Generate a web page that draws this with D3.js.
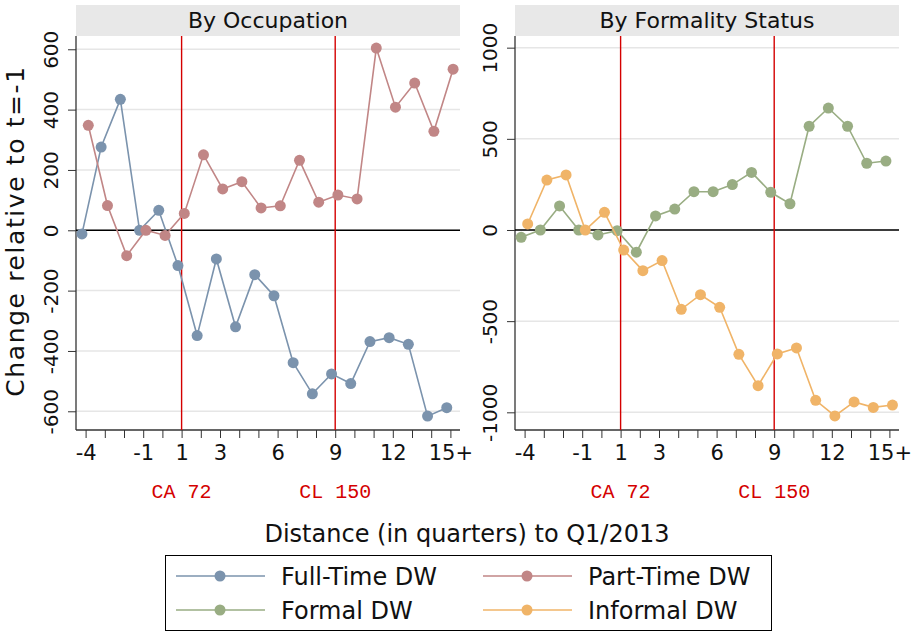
<!DOCTYPE html>
<html>
<head>
<meta charset="utf-8">
<script src="https://cdn.jsdelivr.net/npm/d3@7"></script>
<style>
  body { margin: 0; background: #fff; }
</style>
</head>
<body>
<div id="chart"></div>
<script>
// quarters relative to Q1/2013 (t=-1 is the reference)
var quarters = [-4, -3, -2, -1, 0, 1, 2, 3, 4, 5, 6, 7, 8, 9, 10, 11, 12, 13, 14, 15];
var xTickLabels = [-4, -1, 1, 3, 6, 9, 12, 15];

var fullTime = [-12, 276, 434, 0, 66, -117, -349, -95, -320, -147, -217, -439, -542, -476, -508, -369, -356, -378, -616, -588];
var partTime = [348, 82, -84, 0, -17, 56, 250, 137, 161, 74, 81, 232, 93, 117, 104, 604, 408, 488, 328, 534];
var formal = [-40, 0, 132, 0, -27, -4, -122, 77, 115, 210, 210, 249, 316, 207, 144, 569, 669, 569, 366, 378];
var informal = [33, 274, 302, 0, 97, -110, -223, -168, -435, -355, -424, -682, -854, -680, -647, -934, -1020, -943, -973, -960];

var events = [{t: 1, label: 'CA 72'}, {t: 9, label: 'CL 150'}];

var colFull = '#7b93ad', colPart = '#c18686', colFormal = '#99ad83', colInformal = '#f0b468';

var W = 912, H = 632;
var plotTop = 36, plotBottom = 430;
var sans = '"DejaVu Sans", Verdana, sans-serif';

var svg = d3.select('#chart').append('svg')
  .attr('width', W).attr('height', H)
  .attr('font-family', sans);

var panels = [
  {title: 'By Occupation', x0: 76, x1: 460, dom: [-662, 644], ticks: [-600, -400, -200, 0, 200, 400, 600],
   series: [{vals: fullTime, color: colFull, dx: -0.19}, {vals: partTime, color: colPart, dx: 0.14}]},
  {title: 'By Formality Status', x0: 515, x1: 899, dom: [-1097, 1064], ticks: [-1000, -500, 0, 500, 1000],
   series: [{vals: formal, color: colFormal, dx: -0.18}, {vals: informal, color: colInformal, dx: 0.16}]}
];

panels.forEach(function(p) {
  var x = d3.scaleLinear().domain([-4.5, 15.5]).range([p.x0, p.x1]);
  var y = d3.scaleLinear().domain(p.dom).range([plotBottom, plotTop]);
  var g = svg.append('g');

  // header strip
  g.append('rect').attr('x', p.x0).attr('y', 5).attr('width', p.x1 - p.x0).attr('height', plotTop - 5)
    .attr('fill', '#e8e8e8');
  g.append('text').attr('x', (p.x0 + p.x1) / 2).attr('y', 28).attr('text-anchor', 'middle')
    .attr('font-size', '22px').attr('fill', '#111').text(p.title);

  // gridlines
  g.selectAll('.grid').data(p.ticks).enter().append('line')
    .attr('x1', p.x0).attr('x2', p.x1)
    .attr('y1', function(d) { return y(d); }).attr('y2', function(d) { return y(d); })
    .attr('stroke', '#e6e6e6').attr('stroke-width', 1.5);

  // y axis (plain hyphen for negatives)
  var ya = g.append('g').attr('transform', 'translate(' + p.x0 + ',0)')
    .call(d3.axisLeft(y).tickValues(p.ticks).tickSize(8).tickFormat(function(d) { return String(d); }));
  ya.select('.domain').attr('stroke', '#333').attr('stroke-width', 1.3)
    .attr('d', 'M0,' + plotTop + 'V' + plotBottom);
  ya.selectAll('.tick line').attr('stroke', '#333');
  ya.selectAll('.tick text').attr('font-size', '20px').attr('fill', '#111')
    .attr('font-family', sans)
    .attr('text-anchor', 'middle').attr('x', 0).attr('y', 0).attr('dy', '0.35em')
    .attr('transform', 'translate(-25,0) rotate(-90)');

  // x axis
  var xa = g.append('g').attr('transform', 'translate(0,' + plotBottom + ')')
    .call(d3.axisBottom(x).tickValues(quarters).tickSize(8)
      .tickFormat(function(d) { return xTickLabels.indexOf(d) < 0 ? '' : (d === 15 ? '15+' : String(d)); }));
  xa.select('.domain').attr('stroke', '#333').attr('stroke-width', 1.3)
    .attr('d', 'M' + p.x0 + ',0H' + p.x1);
  xa.selectAll('.tick line').attr('stroke', '#333');
  xa.selectAll('.tick text').attr('font-size', '21px').attr('fill', '#111')
    .attr('font-family', sans).attr('y', 15);

  // zero line
  g.append('line').attr('x1', p.x0).attr('x2', p.x1).attr('y1', y(0)).attr('y2', y(0))
    .attr('stroke', '#000').attr('stroke-width', 1.5);

  // event lines and labels
  events.forEach(function(e) {
    g.append('line').attr('x1', x(e.t)).attr('x2', x(e.t)).attr('y1', plotTop).attr('y2', plotBottom)
      .attr('stroke', '#d40000').attr('stroke-width', 1.4);
    g.append('text').attr('x', x(e.t)).attr('y', 498).attr('text-anchor', 'middle')
      .attr('font-family', '"Liberation Mono", "Courier New", monospace').attr('font-size', '20px')
      .attr('fill', '#d40000').text(e.label);
  });

  // series
  p.series.forEach(function(s) {
    var pts = quarters.map(function(q, i) { return [x(q + s.dx), y(s.vals[i])]; });
    g.append('path').attr('d', d3.line()(pts)).attr('fill', 'none')
      .attr('stroke', s.color).attr('stroke-width', 1.6);
    g.selectAll(null).data(pts).enter().append('circle')
      .attr('cx', function(d) { return d[0]; }).attr('cy', function(d) { return d[1]; })
      .attr('r', 5.5).attr('fill', s.color);
  });
});

// y title
svg.append('text').attr('transform', 'translate(24,231) rotate(-90)').attr('text-anchor', 'middle')
  .attr('font-size', '25px').attr('letter-spacing', '1.6px').attr('fill', '#111').text('Change relative to t=-1');

// x title
svg.append('text').attr('x', 467).attr('y', 542).attr('text-anchor', 'middle')
  .attr('font-size', '24px').attr('fill', '#111').text('Distance (in quarters) to Q1/2013');

// legend
var legend = [
  {name: 'Full-Time DW', color: colFull, col: 0, row: 0},
  {name: 'Part-Time DW', color: colPart, col: 1, row: 0},
  {name: 'Formal DW', color: colFormal, col: 0, row: 1},
  {name: 'Informal DW', color: colInformal, col: 1, row: 1}
];
svg.append('rect').attr('x', 165.5).attr('y', 555.5).attr('width', 606).attr('height', 75)
  .attr('fill', 'none').attr('stroke', '#000').attr('stroke-width', 1);
var li = svg.selectAll('.leg').data(legend).enter().append('g')
  .attr('transform', function(d) { return 'translate(' + (176 + d.col * 307) + ',' + (576 + d.row * 34) + ')'; });
li.append('line').attr('x1', 0).attr('x2', 89).attr('stroke', function(d) { return d.color; }).attr('stroke-width', 1.6);
li.append('circle').attr('cx', 44).attr('r', 5.5).attr('fill', function(d) { return d.color; });
li.append('text').attr('x', 105).attr('y', 8.5).attr('font-size', '24px').attr('fill', '#111')
  .text(function(d) { return d.name; });
</script>
</body>
</html>
